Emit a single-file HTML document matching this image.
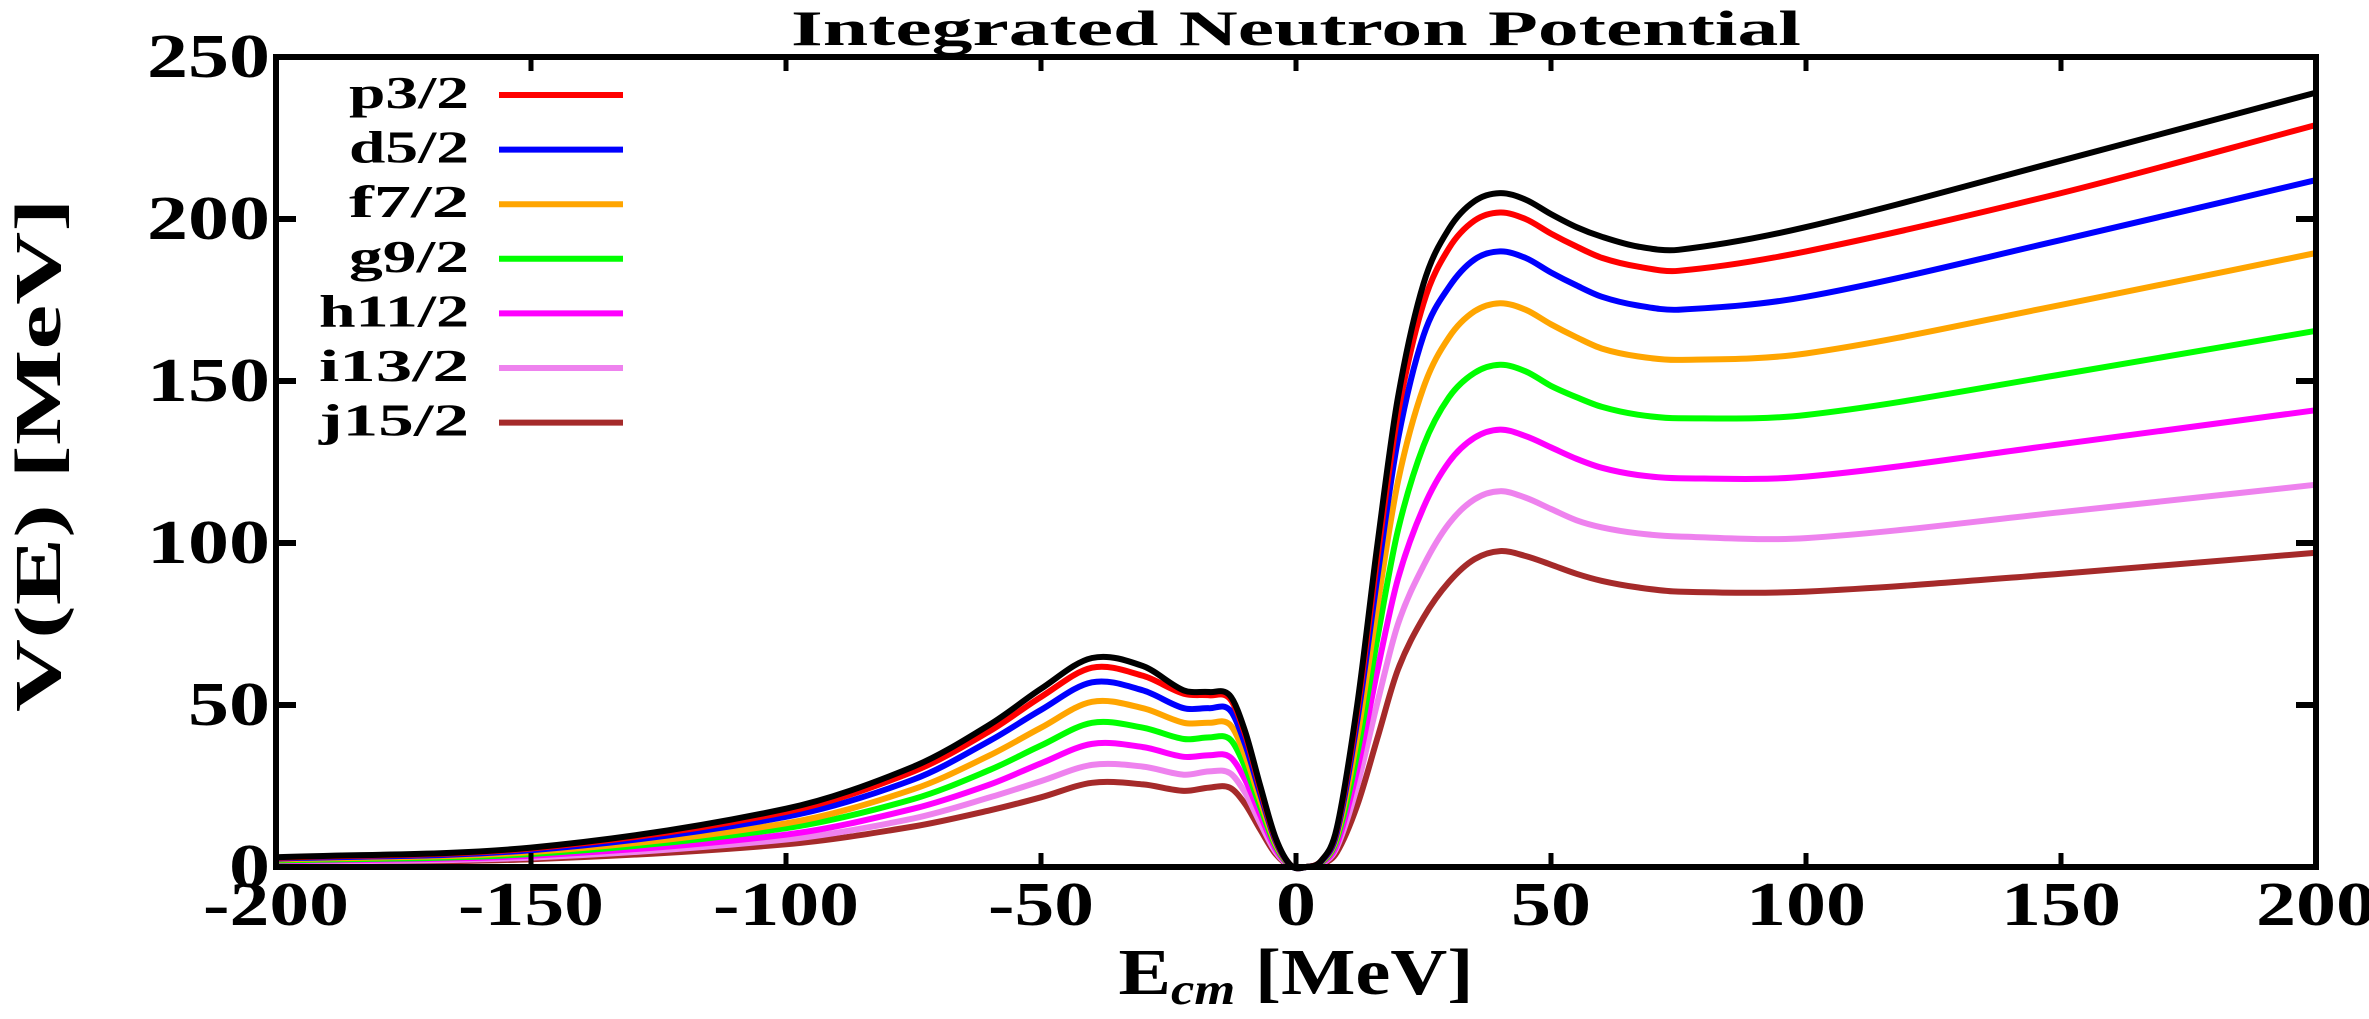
<!DOCTYPE html>
<html><head><meta charset="utf-8"><style>
html,body{margin:0;padding:0;background:#fff;}
svg{display:block;font-family:"Liberation Serif",serif;font-weight:bold;}
</style></head><body>
<svg id="chart" width="2369" height="1019" viewBox="0 0 2369 1019" xmlns="http://www.w3.org/2000/svg">
<text x="1296" y="45" text-anchor="middle" font-size="50" textLength="1010" lengthAdjust="spacingAndGlyphs">Integrated Neutron Potential</text>
<g id="curves"></g>
<g id="axes"></g>
<g id="legend"></g>
<text x="1296" y="994" text-anchor="middle" font-size="66" textLength="355" lengthAdjust="spacingAndGlyphs">E<tspan font-size="44" font-style="italic" dy="10">cm</tspan><tspan dy="-10"> [MeV]</tspan></text>
<text transform="translate(60,455) rotate(-90)" text-anchor="middle" font-size="66" textLength="514" lengthAdjust="spacingAndGlyphs">V(E) [MeV]</text>
</svg>
<script>
const energies=[-200,-150,-100,-75,-60,-50,-40,-30,-22,-17,-13,-10,-7,-4,-1,2,5,8,12,16,20,25,30,35,40,45,50,55,60,67,75,100,150,200];
const seriesNames=["total","p3/2","d5/2","f7/2","g9/2","h11/2","i13/2","j15/2"];
const seriesColors=["#000000","#ff0000","#0000ff","#ffa500","#00ff00","#ff00ff","#ee82ee","#a52a2a"];
const totalValues=[3,6,18,31,44,55,64.5,62,54.5,54,53,42,25,9,0.5,0,2,12,50,100,145,180,197,205.5,208,206,201.5,197.5,194.5,191.5,190.5,197.5,218,239];
const p32Values=[2.8,5.7,17,29.5,42,52.5,61.5,59,53.5,53,52,41,24,8.6,0.5,0,2,11.5,48,96,140,174,191,199.5,202,200,195.5,191.5,188,185.3,184,190,208,229];
const d52Values=[2.6,5.2,15.5,27,39,48.5,57,54.5,49,49,48.5,38,22.5,8,0.4,0,1.8,10.5,45,90,132,164,179,187.5,190,188,183.5,179.5,176,173.3,172,176,193.5,212];
const f72Values=[2.3,4.6,13.5,24,34.5,43,51,49,44.5,44.5,44,34.5,20.5,7.2,0.4,0,1.6,9.5,40,81,119,148,163.5,171.5,174,172,167.5,163.5,160,157.6,156.5,158.5,173.5,189.5];
const g92Values=[2,4,12,21,30,37.5,44.5,43,39.5,40,39.5,31,18.5,6.5,0.3,0,1.4,8.5,35,71,104,130,145,152.5,155,153,148.5,145,142,139.6,138.5,139.5,152,165.5];
const h112Values=[1.8,3.5,10,18,25.5,32,38,37,34,34.5,34,27,16,5.6,0.3,0,1.2,7,30,61,89,111,125,132.5,135,133,129.5,126,123.2,121,120,120.5,130.5,141];
const i132Values=[1.5,2.9,8.5,15,21.5,26.5,31.5,31,28.5,29.5,29,23,13.5,4.7,0.2,0,1,6,25,51,75,93,106,113.5,116,114,110.5,107,104.8,103,102,101.5,109.5,118];
const j152Values=[1.2,2.4,7,12.5,17.5,21.5,26,25.5,23.5,24.5,24.5,19.5,11.5,4,0.2,0,0.8,4.5,19,40,61,77,88,95,97.5,96,93.3,90.5,88.3,86.3,85,85,90.5,97];
const xTicks=[-200,-150,-100,-50,0,50,100,150,200];
const yTicks=[0,50,100,150,200,250];

const NS="http://www.w3.org/2000/svg";
const L=276,R=2316,T=57,B=867;
const xMin=-200,xMax=200,yMin=0,yMax=250;
function sx(v){return L+(v-xMin)/(xMax-xMin)*(R-L);}
function sy(v){return B-(v-yMin)/(yMax-yMin)*(B-T);}
function mk(tag,attrs,parent){const e=document.createElementNS(NS,tag);for(const k in attrs)e.setAttribute(k,attrs[k]);parent.appendChild(e);return e;}
function labelLen(s,digitW,minusW){let w=0;for(const c of s)w+=(c==='-'?minusW:digitW);return w;}

const allSeries=[totalValues,p32Values,d52Values,f72Values,g92Values,h112Values,i132Values,j152Values];
const curves=document.getElementById('curves');
function pathFor(vals){
  const n=energies.length;
  const X=energies.map(sx), Y=vals.map(sy);
  const m=[];
  for(let i=0;i<n;i++){
    const a=Math.max(0,i-1),b=Math.min(n-1,i+1);
    m.push((Y[b]-Y[a])/(X[b]-X[a]));
  }
  let d="M"+X[0].toFixed(1)+","+Y[0].toFixed(1);
  for(let i=0;i<n-1;i++){
    const h=X[i+1]-X[i];
    d+=" C"+(X[i]+h/3).toFixed(1)+","+(Y[i]+m[i]*h/3).toFixed(1)+" "+(X[i+1]-h/3).toFixed(1)+","+(Y[i+1]-m[i+1]*h/3).toFixed(1)+" "+X[i+1].toFixed(1)+","+Y[i+1].toFixed(1);
  }
  return d;
}
for(let s=allSeries.length-1;s>=0;s--){
  const p=mk('path',{d:pathFor(allSeries[s]),fill:'none',stroke:seriesColors[s],'stroke-width':6,'stroke-linejoin':'round'},curves);
  
  
}

const axes=document.getElementById('axes');
const frame=mk('rect',{x:L,y:T,width:R-L,height:B-T,fill:'none',stroke:'#000','stroke-width':6},axes);


xTicks.forEach(v=>{
  const x=sx(v);
  const t1=mk('line',{x1:x,y1:B,x2:x,y2:B-14,stroke:'#000','stroke-width':5},axes);
  
  
  const t2=mk('line',{x1:x,y1:T,x2:x,y2:T+14,stroke:'#000','stroke-width':5},axes);
  
  
  const s=String(v);
  const lb=mk('text',{x:x,y:B+58,'text-anchor':'middle','font-size':62,textLength:labelLen(s,40,26),lengthAdjust:'spacingAndGlyphs'},axes);
  lb.textContent=s;
  
  
});
yTicks.forEach(v=>{
  const y=sy(v);
  const t1=mk('line',{x1:L,y1:y,x2:L+20,y2:y,stroke:'#000','stroke-width':6},axes);
  
  
  const t2=mk('line',{x1:R,y1:y,x2:R-20,y2:y,stroke:'#000','stroke-width':6},axes);
  
  
  const s=String(v);
  const lb=mk('text',{x:L-6,y:y+20,'text-anchor':'end','font-size':62,textLength:labelLen(s,41,26),lengthAdjust:'spacingAndGlyphs'},axes);
  lb.textContent=s;
  
  
});

const legend=document.getElementById('legend');
for(let s=1;s<seriesNames.length;s++){
  const y=95+(s-1)*54.6;
  const g=mk('g',{},legend);
  
  
  const tx=mk('text',{x:469,y:y+13,'text-anchor':'end','font-size':46,textLength:seriesNames[s].length*30,lengthAdjust:'spacingAndGlyphs'},g);
  tx.textContent=seriesNames[s];
  const ln=mk('line',{x1:499,y1:y,x2:623,y2:y,stroke:seriesColors[s],'stroke-width':6},g);
  
  
}
</script>
</body></html>
